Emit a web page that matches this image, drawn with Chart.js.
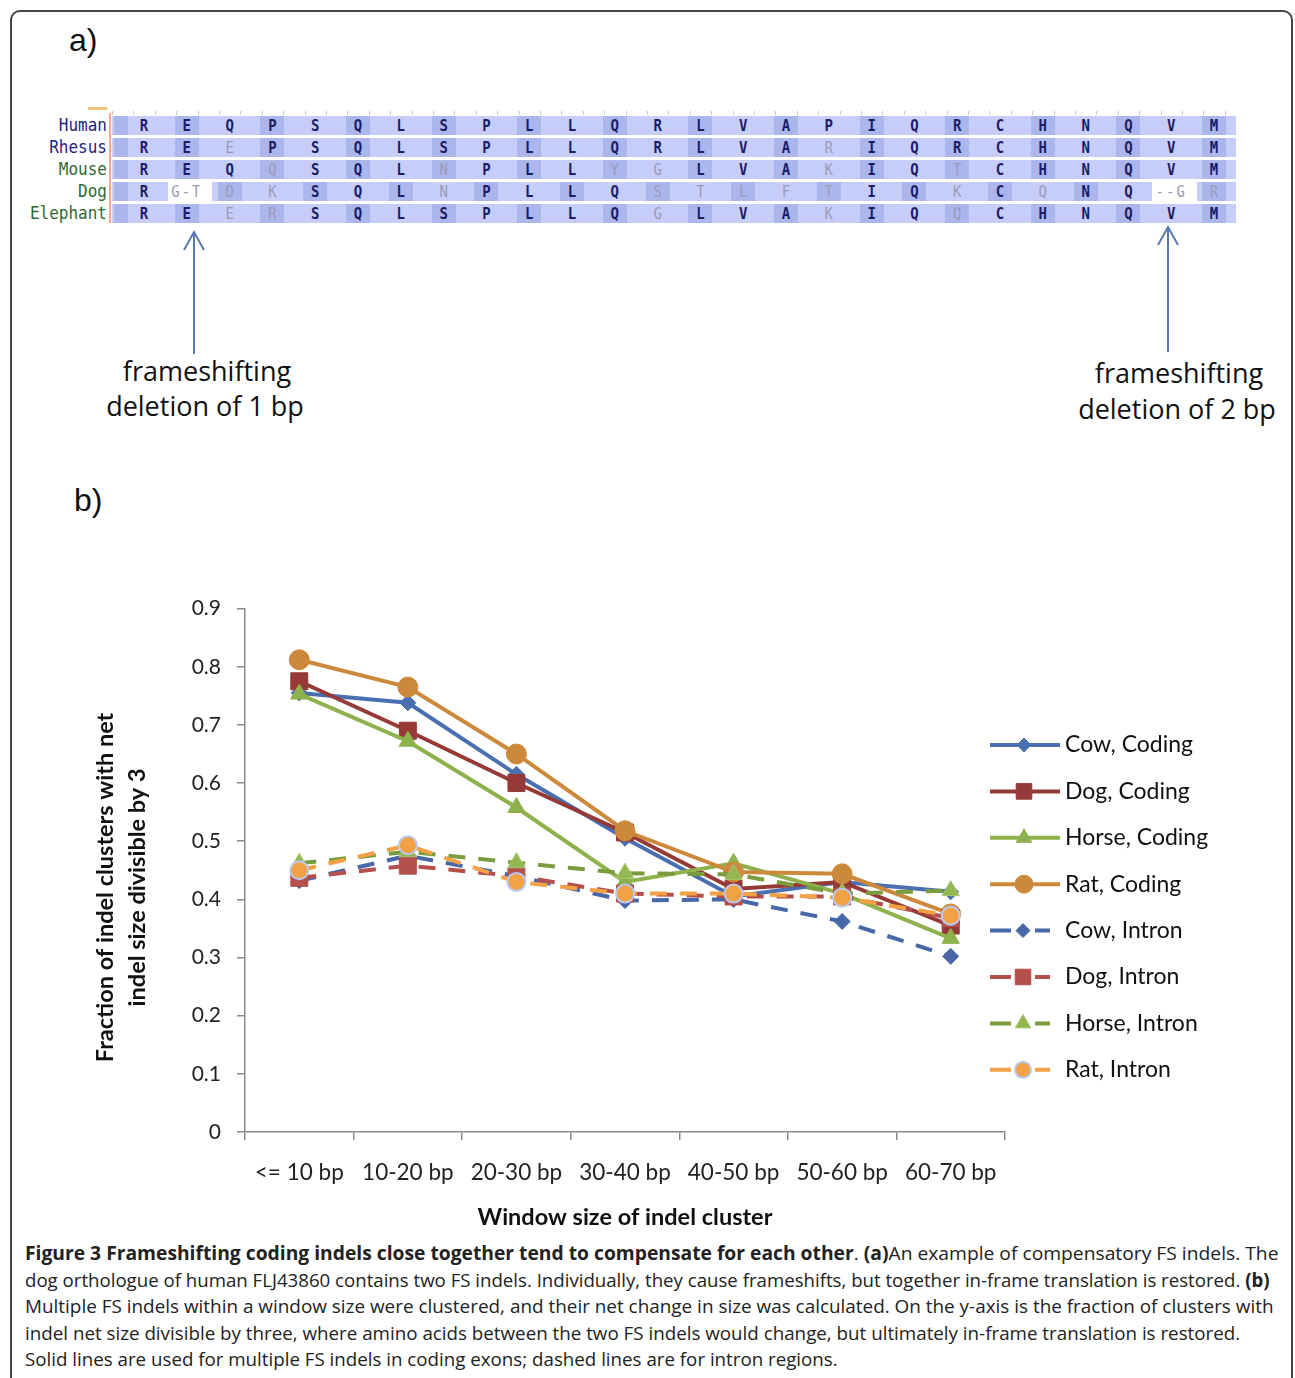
<!DOCTYPE html>
<html>
<head>
<meta charset="utf-8">
<script src="https://cdn.jsdelivr.net/npm/chart.js@4.4.0/dist/chart.umd.min.js"></script>
<style>
  body { margin: 0; background: #fff; }
  #page { position: relative; width: 1295px; height: 1378px; overflow: hidden; font-family: Lato, "Open Sans", sans-serif; }
  #frame { position: absolute; left: 10px; top: 10px; width: 1283px; height: 1380px; border: 2px solid #444; border-radius: 10px; box-sizing: border-box; }
  .panel { position: absolute; font-family: "Liberation Sans", Arial, sans-serif; font-size: 32px; color: #111; }
  .ann { position: absolute; font-family: "Open Sans", sans-serif; font-size: 27px; color: #111; white-space: nowrap; transform: translateX(-50%); }
  .cap { position: absolute; left: 25px; font-family: "Open Sans", sans-serif; font-size: 19px; line-height: 26px; color: #222; white-space: nowrap; transform-origin: 0 50%; }
  .cap b { font-weight: 700; }
  #chartBox { position: absolute; left: 20px; top: 580px; width: 1260px; height: 660px; }
</style>
</head>
<body>
<div id="page">
  <div id="frame"></div>
  <div class="panel" style="left:69px; top:22px;">a)</div>
  <div class="panel" style="left:74px; top:482px;">b)</div>
  <div id="align"></div>
  <svg style="position:absolute; left:0; top:0;" width="1295" height="460">
    <g stroke="#5a7bb0" stroke-width="2" fill="none">
      <line x1="194" y1="234" x2="194" y2="354"/>
      <polyline points="184,250 194,232 204,250"/>
      <line x1="1168" y1="229" x2="1168" y2="352"/>
      <polyline points="1158,245 1168,227 1178,245"/>
    </g>
  </svg>
  <div class="ann" style="left:207px; top:352px;">frameshifting</div>
  <div class="ann" style="left:205px; top:387px;">deletion of 1 bp</div>
  <div class="ann" style="left:1179px; top:354px;">frameshifting</div>
  <div class="ann" style="left:1177px; top:390px;">deletion of 2 bp</div>
  <div id="chartBox"><canvas id="fsChart" width="1260" height="660"></canvas></div>
  <div id="caption"></div>
</div>
<script>
// panel a) alignment
const rowNames = ['Human', 'Rhesus', 'Mouse', 'Dog', 'Elephant'];
const rowColors = ['#23237a', '#23237a', '#2f6b2f', '#2f6b2f', '#2f6b2f'];
// lower case = residue differs from human (drawn grey)
const rowSeqs = [
  'REQPSQLSPLLQRLVAPIQRCHNQVM'.split(''),
  'REePSQLSPLLQRLVArIQRCHNQVM'.split(''),
  'REQqSQLnPLLygLVAkIQtCHNQVM'.split(''),
  ['R', 'g-t', 'd', 'k', 'S', 'Q', 'L', 'n', 'P', 'L', 'L', 'Q', 's', 't', 'l', 'f', 't', 'I', 'Q', 'k', 'C', 'q', 'N', 'Q', '--g', 'r'],
  'REerSQLSPLLQgLVAkIQqCHNQVM'.split('')
];

// panel b) data
const windows = ['<= 10 bp', '10-20 bp', '20-30 bp', '30-40 bp', '40-50 bp', '50-60 bp', '60-70 bp'];
const cowCoding   = [0.755, 0.738, 0.615, 0.505, 0.405, 0.430, 0.413];
const dogCoding   = [0.775, 0.690, 0.600, 0.515, 0.418, 0.430, 0.355];
const horseCoding = [0.753, 0.672, 0.558, 0.430, 0.462, 0.410, 0.333];
const ratCoding   = [0.812, 0.765, 0.650, 0.518, 0.447, 0.444, 0.375];
const cowIntron   = [0.432, 0.475, 0.440, 0.398, 0.400, 0.362, 0.302];
const dogIntron   = [0.437, 0.458, 0.440, 0.410, 0.405, 0.405, 0.368];
const horseIntron = [0.462, 0.482, 0.463, 0.445, 0.443, 0.410, 0.415];
const ratIntron   = [0.450, 0.493, 0.430, 0.410, 0.410, 0.403, 0.372];

// build alignment
const al = document.getElementById('align');
function box(x, y, w, h, bg) {
  const d = document.createElement('div');
  d.style.cssText = 'position:absolute;left:' + x + 'px;top:' + y + 'px;width:' + w + 'px;height:' + h + 'px;background:' + bg;
  al.appendChild(d);
}
const colX = c => 144 + c * 42.8;
for (let k = 0; k <= 52; k++) box(112 + k * 21.4, 111, 1, 4, '#c8c8d8');
box(88, 107, 19, 3, '#f2c27a');
box(109, 113, 2, 110, '#f3a996');
rowSeqs.forEach((seq, r) => {
  const cy = 125 + r * 22;
  box(112, cy - 9, 1124, 19, '#c6cdf8');
  box(114, cy - 9, 14, 19, '#abb6ec');
  seq.forEach((tok, c) => {
    const dark = r === 3 ? ((c >= 2 && c <= 22 && c % 2 === 0) || c === 25) : c % 2 === 1;
    if (dark) box(colX(c) - 12, cy - 9, 24, 19, '#abb6ec');
  });
  if (r === 3) { box(168, cy - 9, 44, 19, '#ffffff'); box(1152, cy - 9, 45, 19, '#ffffff'); }
  const lab = document.createElement('div');
  lab.textContent = rowNames[r];
  lab.style.cssText = 'position:absolute;right:' + (1295 - 107) + 'px;top:' + (cy - 10) + 'px;font:16px "DejaVu Sans Mono",monospace;line-height:20px;color:' + rowColors[r] + ';transform:scaleY(1.1);transform-origin:100% 50%';
  al.appendChild(lab);
  seq.forEach((tok, c) => {
    const t = document.createElement('div');
    const grey = tok !== tok.toUpperCase() || tok.length > 1;
    t.textContent = tok.toUpperCase();
    t.style.cssText = 'position:absolute;left:' + colX(c) + 'px;top:' + (cy - 10) + 'px;transform:translateX(-50%) scaleY(1.1);font:' + (grey ? '400' : '700') + ' 14px "DejaVu Sans Mono",monospace;line-height:20px;white-space:nowrap;letter-spacing:' + (tok.length > 1 ? '2px' : '0') + ';color:' + (grey ? '#9b9bb8' : '#1c1c66');
    al.appendChild(t);
  });
});

// caption
const capLines = [
  ['<b>Figure 3 Frameshifting coding indels close together tend to compensate for each other</b>. <b>(a)</b>An example of compensatory FS indels. The', 1253],
  ['dog orthologue of human FLJ43860 contains two FS indels. Individually, they cause frameshifts, but together in-frame translation is restored. <b>(b)</b>', 1245],
  ['Multiple FS indels within a window size were clustered, and their net change in size was calculated. On the y-axis is the fraction of clusters with', 1249],
  ['indel net size divisible by three, where amino acids between the two FS indels would change, but ultimately in-frame translation is restored.', 1215],
  ['Solid lines are used for multiple FS indels in coding exons; dashed lines are for intron regions.', 813]
];
const capCentres = [1253, 1280, 1306, 1333, 1359];
const cap = document.getElementById('caption');
capLines.forEach((ln, i) => {
  const d = document.createElement('div');
  d.className = 'cap';
  d.innerHTML = ln[0];
  d.style.top = (capCentres[i] - 13) + 'px';
  cap.appendChild(d);
  d.style.transform = 'scaleX(' + (ln[1] / d.offsetWidth) + ')';
});

// chart
const FONT = 'Lato';
function series(label, data, color, style, radius, dashed, markBorder) {
  return {
    label: label,
    data: data,
    borderColor: color,
    backgroundColor: color,
    borderWidth: 4,
    borderDash: dashed ? [17, 13] : [],
    pointStyle: style,
    pointRadius: radius,
    pointHoverRadius: radius,
    pointBackgroundColor: color,
    pointBorderColor: markBorder || color,
    pointBorderWidth: markBorder ? 2 : 1,
    tension: 0,
    fill: false
  };
}
const datasets = [
  series('Cow, Coding', cowCoding, '#4a6fb1', 'rectRot', 8, false),
  series('Dog, Coding', dogCoding, '#953a36', 'rect', 12, false),
  series('Horse, Coding', horseCoding, '#8db24c', 'triangle', 10, false),
  series('Rat, Coding', ratCoding, '#cd893b', 'circle', 10, false),
  series('Cow, Intron', cowIntron, '#4767a6', 'rectRot', 8, true),
  series('Dog, Intron', dogIntron, '#b4504c', 'rect', 12, true),
  series('Horse, Intron', horseIntron, '#7b9c3e', 'triangle', 10, true),
  series('Rat, Intron', ratIntron, '#f2a144', 'circle', 9, true, '#b9c9ef')
];
datasets.forEach((d, i) => { d.order = datasets.length - i; });
datasets[6].pointBackgroundColor = '#92b650';
datasets[6].pointBorderColor = '#a9c872';

const sideLegend = {
  id: 'sideLegend',
  afterDraw(chart) {
    const ctx = chart.ctx;
    chart.data.datasets.forEach((d, i) => {
      const y = 165 + i * 46.4;
      ctx.save();
      ctx.strokeStyle = d.borderColor;
      ctx.lineWidth = 4;
      ctx.beginPath();
      if (d.borderDash.length) {
        ctx.moveTo(970, y); ctx.lineTo(991, y);
        ctx.moveTo(1015, y); ctx.lineTo(1030, y);
      } else {
        ctx.moveTo(970, y); ctx.lineTo(1040, y);
      }
      ctx.stroke();
      ctx.fillStyle = d.pointBackgroundColor;
      ctx.strokeStyle = d.pointBorderColor;
      ctx.lineWidth = d.pointBorderWidth;
      const xm = d.borderDash.length ? 1003 : 1004;
      Chart.helpers.drawPoint(ctx, { pointStyle: d.pointStyle, radius: d.pointRadius - 1, borderWidth: d.pointBorderWidth, rotation: 0 }, xm, y);
      ctx.fillStyle = '#111';
      ctx.font = '23px ' + FONT;
      ctx.textBaseline = 'middle';
      ctx.fillText(d.label, 1045, y);
      ctx.restore();
    });
  }
};

// trailing spaces push the rotated title down to where the original sits
const pad = '\u00a0'.repeat(6);
new Chart('fsChart', {
  type: 'line',
  data: { labels: windows, datasets: datasets },
  options: {
    responsive: false,
    animation: false,
    devicePixelRatio: 1,
    layout: { padding: { top: 26, right: 275, left: 0, bottom: 0 } },
    plugins: { legend: { display: false }, tooltip: { enabled: false } },
    scales: {
      x: {
        offset: true,
        grid: { offset: true, drawOnChartArea: false, drawTicks: true, tickLength: 8, color: '#8a8a8a', lineWidth: 1.5 },
        border: { color: '#8a8a8a', width: 1.5 },
        ticks: { color: '#222', padding: 19, font: { family: FONT, size: 22.5 } },
        title: { display: true, text: 'Window size of indel cluster', color: '#111', font: { family: FONT, size: 23.5, weight: 'bold' }, padding: { top: 0, bottom: 8 } },
        afterFit(s) { s.height = 108; }
      },
      y: {
        min: 0,
        max: 0.9,
        ticks: { stepSize: 0.1, color: '#222', padding: 16, font: { family: FONT, size: 21 } },
        grid: { drawOnChartArea: false, drawTicks: true, tickLength: 8, color: '#8a8a8a', lineWidth: 1.5 },
        border: { color: '#8a8a8a', width: 1.5 },
        title: { display: true, text: ['Fraction of indel clusters with net' + pad, 'indel size divisible by 3' + pad], color: '#111', font: { family: FONT, size: 23.5, weight: 'bold', lineHeight: 1.36 }, padding: { top: 69, bottom: 0 } },
        afterFit(s) { s.width = 225; }
      }
    }
  },
  plugins: [sideLegend]
});
</script>
</body>
</html>
